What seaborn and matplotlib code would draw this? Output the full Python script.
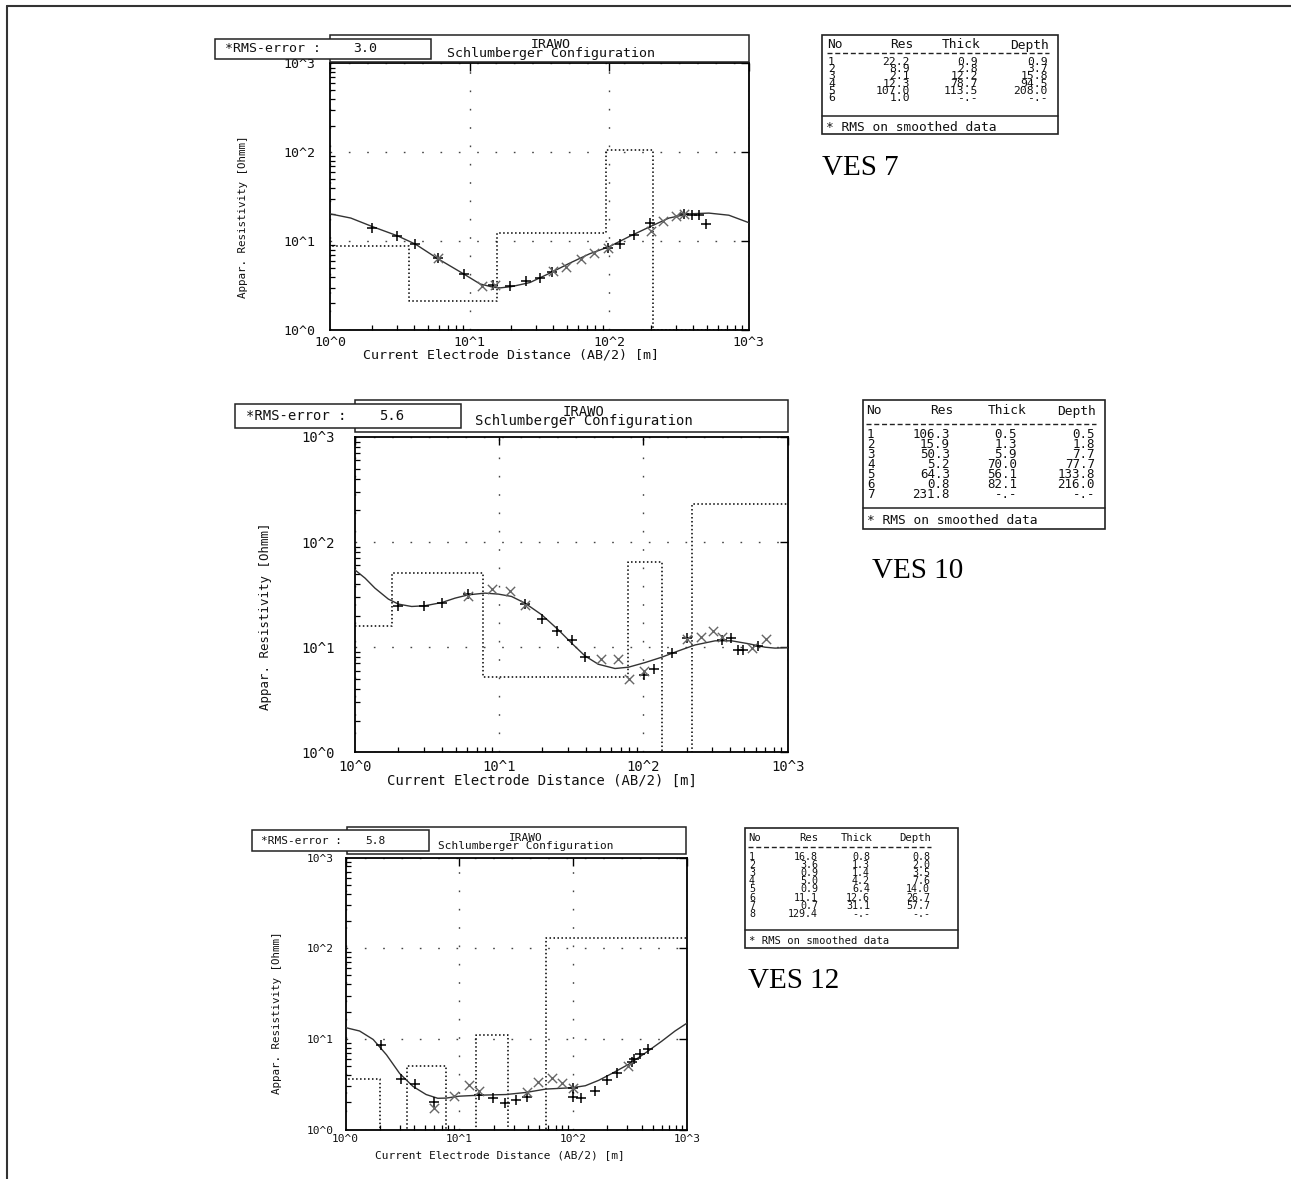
import numpy as np
import pandas as pd
import seaborn as sns
import matplotlib.pyplot as plt
from matplotlib.patches import Rectangle
from matplotlib.lines import Line2D
from matplotlib.transforms import Affine2D
from matplotlib.ticker import NullFormatter

sns.set_theme(style='white')
plt.rcParams['font.family'] = ['DejaVu Sans Mono', 'DejaVu Sans']

W, H = 1291, 1179

# ---------------- VES 7 ----------------
ves7_res = [22.2, 8.9, 2.1, 12.3, 107.0, 1.0]
ves7_thick = [0.9, 2.8, 12.2, 78.7, 113.5]
ves7_depth = [0.9, 3.7, 15.8, 94.5, 208.0]
ves7_rms = '3.0'
ves7_fit_x = [1.0, 1.41, 2.01, 3.04, 4.10, 5.85, 9.08, 11.9, 14.8, 16.6, 20.0, 27.1,
              37.6, 52.2, 72.5, 101, 140, 194, 269, 374, 520, 723, 1000]
ves7_fit_y = [20.3, 18.2, 14.6, 11.5, 9.25, 6.43, 4.28, 3.30, 3.03, 2.98, 3.08, 3.42,
              4.36, 5.65, 7.20, 8.71, 11.3, 14.4, 18.2, 20.3, 20.7, 19.6, 16.2]
ves7_plus_x = [2.01, 3.04, 4.1, 5.9, 9.1, 14.8, 19.5, 25.6, 31.9, 39.2, 97.9, 119,
               152, 196, 344, 395, 441, 492]
ves7_plus_y = [14.2, 11.5, 9.4, 6.4, 4.3, 3.2, 3.14, 3.57, 3.83, 4.55, 8.34, 9.25,
               11.8, 16.0, 20.2, 19.8, 19.8, 15.6]
ves7_cross_x = [5.9, 12.3, 15.2, 39.5, 49.4, 63.3, 78.7, 99, 200, 242, 301, 344]
ves7_cross_y = [6.5, 3.16, 3.25, 4.6, 5.18, 6.27, 7.45, 8.4, 12.9, 16.7, 19.3, 20.3]

# ---------------- VES 10 ----------------
ves10_res = [106.3, 15.9, 50.3, 5.2, 64.3, 0.8, 231.8]
ves10_thick = [0.5, 1.3, 5.9, 70.0, 56.1, 82.1]
ves10_depth = [0.5, 1.8, 7.7, 77.7, 133.8, 216.0]
ves10_rms = '5.6'
ves10_fit_x = [1.0, 1.18, 1.38, 1.71, 2.01, 2.48, 3.07, 4.01, 4.96, 6.13, 8.0, 9.9,
               12.2, 15.1, 19.8, 25.8, 31.9, 39.4, 48.8, 63.6, 78.7, 103, 134, 175,
               228, 314, 409, 533, 697, 817, 1000]
ves10_fit_y = [54.6, 45.4, 36.5, 28.7, 25.7, 24.4, 24.8, 26.6, 29.3, 31.5, 32.7, 32.0,
               30.4, 26.3, 20.3, 14.6, 10.9, 8.26, 6.88, 6.27, 6.45, 7.15, 8.03, 9.23,
               10.5, 11.5, 11.5, 10.8, 10.0, 9.8, 9.9]
ves10_plus_x = [2.01, 3.04, 4.05, 6.07, 15.1, 19.95, 25.4, 32.2, 39.4, 100.5, 119,
                159, 200, 349, 405, 455, 493, 627]
ves10_plus_y = [24.9, 24.4, 26.6, 32.0, 25.7, 18.5, 14.4, 11.6, 8.03, 5.49, 6.22,
                8.9, 12.2, 11.7, 12.2, 9.44, 9.44, 10.3]
ves10_cross_x = [6.07, 9.0, 12.0, 15.1, 50.9, 66.4, 79.6, 100.5, 200, 251, 306, 349,
                 563, 704]
ves10_cross_y = [30.8, 35.7, 34.4, 25.0, 7.69, 7.69, 4.95, 5.96, 12.0, 12.6, 14.3,
                 12.6, 9.78, 11.9]

# ---------------- VES 12 ----------------
ves12_res = [16.8, 3.6, 0.9, 5.0, 0.9, 11.1, 0.7, 129.4]
ves12_thick = [0.8, 1.3, 1.4, 4.2, 6.4, 12.6, 31.1]
ves12_depth = [0.8, 2.0, 3.5, 7.6, 14.0, 26.7, 57.7]
ves12_rms = '5.8'
ves12_fit_x = [1.0, 1.33, 1.75, 2.29, 2.99, 3.91, 5.11, 6.46, 7.64, 10, 15.0, 25.6,
               38.3, 57.3, 97.9, 128, 168, 219, 307, 430, 600, 785, 1000]
ves12_fit_y = [13.3, 12.2, 9.84, 6.67, 4.15, 2.99, 2.43, 2.21, 2.22, 2.33, 2.39, 2.43,
               2.56, 2.79, 2.89, 3.04, 3.49, 4.15, 5.24, 6.97, 9.42, 12.2, 14.9]
ves12_plus_x = [2.07, 3.09, 4.09, 6.04, 15.0, 19.6, 25.2, 31.7, 39.6, 99.2, 99.2, 117,
                155, 198, 242, 328, 342, 388, 453]
ves12_plus_y = [8.63, 3.65, 3.15, 2.03, 2.43, 2.23, 1.94, 2.12, 2.27, 2.89, 2.31, 2.23,
                2.65, 3.49, 4.22, 5.61, 5.96, 6.78, 7.73]
ves12_cross_x = [6.04, 9.04, 12.1, 15.0, 39.6, 49.4, 64.6, 79.1, 99.2, 303]
ves12_cross_y = [1.72, 2.33, 3.07, 2.65, 2.56, 3.34, 3.74, 3.26, 2.89, 5.01]

tick_vals = [1, 10, 100, 1000]
tick_text = ['10^0', '10^1', '10^2', '10^3']

fig = plt.figure(figsize=(W / 100, H / 100), dpi=100)
fig.patch.set_facecolor('white')
# pixel coordinates, origin top-left
px = Affine2D().scale(1 / W, -1 / H).translate(0, 1) + fig.transFigure

panels = [
    dict(name='VES 7', res=ves7_res, thick=ves7_thick, depth=ves7_depth, rms=ves7_rms,
         fit=(ves7_fit_x, ves7_fit_y), plus=(ves7_plus_x, ves7_plus_y),
         cross=(ves7_cross_x, ves7_cross_y),
         axes=(330, 63.5, 748.5, 330), tbox=(330, 35, 748.5, 61.5),
         rbox=(215, 38.5, 431, 58.5), irawo=(551, 45), schl=(551, 53.5),
         rtxt=(225, 48.5), rval=353.5, ylab=(242.5, 216.7), xlab=(510.6, 355),
         fs=9.5, yfs=7.8, ypad=10.8, xpad=4.5,
         table=dict(box=(822, 35, 1058, 134), cols=(827, 913, 980, 1049),
                    vcols=(910, 978, 1048), hy=45, dy=53.3, y0=61.7, step=7.3,
                    sep=116, foot=127.3, fs=9.3, rfs=8.2),
         ves=(822, 175)),
    dict(name='VES 10', res=ves10_res, thick=ves10_thick, depth=ves10_depth, rms=ves10_rms,
         fit=(ves10_fit_x, ves10_fit_y), plus=(ves10_plus_x, ves10_plus_y),
         cross=(ves10_cross_x, ves10_cross_y),
         axes=(354.7, 437, 787.7, 752.3), tbox=(355, 400, 788, 431.5),
         rbox=(235.3, 404.3, 460.6, 428), irawo=(584, 411.6), schl=(584, 421.5),
         rtxt=(246, 416.5), rval=379, ylab=(265, 616), xlab=(542, 781),
         fs=10, yfs=8.9, ypad=14.4, xpad=5.5,
         table=dict(box=(863, 400, 1105, 529), cols=(866, 953, 1026, 1096),
                    vcols=(950, 1017, 1095), hy=411, dy=424.3, y0=434.3, step=10,
                    sep=507.7, foot=521, fs=9.3, rfs=9.0),
         ves=(872, 578)),
    dict(name='VES 12', res=ves12_res, thick=ves12_thick, depth=ves12_depth, rms=ves12_rms,
         fit=(ves12_fit_x, ves12_fit_y), plus=(ves12_plus_x, ves12_plus_y),
         cross=(ves12_cross_x, ves12_cross_y),
         axes=(345.5, 857.5, 687, 1129.5), tbox=(346.5, 826.7, 686, 854.3),
         rbox=(252.3, 830, 429, 851), irawo=(525.7, 837.7), schl=(525.7, 845.7),
         rtxt=(260.7, 840.7), rval=365.7, ylab=(277, 1013), xlab=(500, 1155),
         fs=8, yfs=7.8, ypad=8.3, xpad=3.5,
         table=dict(box=(745, 827.7, 958, 947.7), cols=(748, 818, 873, 931),
                    vcols=(818, 870, 930), hy=838.3, dy=847.3, y0=856.7, step=8.2,
                    sep=930, foot=941, fs=7.6, rfs=7.2),
         ves=(748, 988)),
]

for p in panels:
    l, t, r, b = p['axes']
    ax = fig.add_axes([l / W, 1 - b / H, (r - l) / W, (b - t) / H])
    ax.set_xscale('log')
    ax.set_yscale('log')
    ax.set_xlim(1, 1000)
    ax.set_ylim(1, 1000)

    # layered model from the table (step line)
    sx = [0.3] + p['depth'] + [3000]
    sy = p['res'] + [p['res'][-1]]
    ax.plot(sx, sy, drawstyle='steps-post', color='black', lw=1.1,
            ls=(0, (1.0, 1.6)), zorder=2)

    sns.lineplot(x=p['fit'][0], y=p['fit'][1], ax=ax, color='#333333', lw=1.0,
                 estimator=None, zorder=3)
    sns.scatterplot(x=p['plus'][0], y=p['plus'][1], ax=ax, marker='+', color='black',
                    s=50, linewidth=1.1, zorder=4)
    sns.scatterplot(x=p['cross'][0], y=p['cross'][1], ax=ax, marker='x', color='#666666',
                    s=45, linewidth=1.0, zorder=4)

    ax.set_xticks(tick_vals, tick_text)
    ax.set_yticks(tick_vals, tick_text)
    ax.xaxis.set_minor_formatter(NullFormatter())
    ax.yaxis.set_minor_formatter(NullFormatter())
    ax.set_xlim(1, 1000)
    ax.set_ylim(1, 1000)
    ax.set_xlabel('')
    ax.set_ylabel('')
    ax.grid(True, which='major', color='#444444', lw=1.0, ls=(0, (1.2, 12)))
    ax.tick_params(which='major', direction='in', top=True, right=True, length=6,
                   width=1.0, color='black', labelsize=p['fs'], labelcolor='#111111')
    ax.tick_params(axis='x', which='major', pad=p['xpad'])
    ax.tick_params(axis='y', which='major', pad=p['ypad'])
    ax.tick_params(which='minor', direction='in', top=False, right=False, left=True,
                   bottom=True, length=3.5, width=0.9, color='black')
    for s in ax.spines.values():
        s.set_color('black')
        s.set_linewidth(1.3)

    # header boxes
    tl, tt, tr, tb = p['tbox']
    fig.add_artist(Rectangle((tl, tt), tr - tl, tb - tt, transform=px, facecolor='white',
                             edgecolor='#222222', lw=1.1, zorder=5))
    rl, rt, rr, rb = p['rbox']
    fig.add_artist(Rectangle((rl, rt), rr - rl, rb - rt, transform=px, facecolor='white',
                             edgecolor='#222222', lw=1.1, zorder=6))
    fs = p['fs']
    fig.text(*p['irawo'], 'IRAWO', transform=px, ha='center', va='center', fontsize=fs,
             color='#111111', zorder=7)
    fig.text(*p['schl'], 'Schlumberger Configuration', transform=px, ha='center',
             va='center', fontsize=fs, color='#111111', zorder=7)
    fig.text(*p['rtxt'], '*RMS-error :', transform=px, ha='left', va='center',
             fontsize=fs, color='#111111', zorder=7)
    fig.text(p['rval'], p['rtxt'][1], p['rms'], transform=px, ha='left', va='center',
             fontsize=fs, color='#111111', zorder=7)
    fig.text(*p['ylab'], 'Appar. Resistivity [Ohmm]', transform=px, ha='center',
             va='center', rotation=90, fontsize=p['yfs'], color='#111111')
    fig.text(*p['xlab'], 'Current Electrode Distance (AB/2) [m]', transform=px,
             ha='center', va='center', fontsize=fs, color='#111111')

    # result table
    tb_ = p['table']
    bl, bt, br, bb = tb_['box']
    fig.add_artist(Rectangle((bl, bt), br - bl, bb - bt, transform=px, fill=False,
                             edgecolor='#222222', lw=1.2))
    c0, c1, c2, c3 = tb_['cols']
    v1, v2, v3 = tb_['vcols']
    kw = dict(transform=px, va='center', fontsize=tb_['fs'], color='#111111')
    rkw = dict(transform=px, va='center', fontsize=tb_['rfs'], color='#111111')
    fig.text(c0, tb_['hy'], 'No', ha='left', **kw)
    fig.text(c1, tb_['hy'], 'Res', ha='right', **kw)
    fig.text(c2, tb_['hy'], 'Thick', ha='right', **kw)
    fig.text(c3, tb_['hy'], 'Depth', ha='right', **kw)
    fig.add_artist(Line2D([c0, c3], [tb_['dy'], tb_['dy']], transform=px, color='#222222',
                          lw=1.0, ls=(0, (3.6, 2.0))))
    n = len(p['res'])
    for i in range(n):
        y = tb_['y0'] + i * tb_['step']
        fig.text(c0 + 1, y, str(i + 1), ha='left', **rkw)
        fig.text(v1, y, f"{p['res'][i]:.1f}", ha='right', **rkw)
        th = f"{p['thick'][i]:.1f}" if i < n - 1 else '-.-'
        dp = f"{p['depth'][i]:.1f}" if i < n - 1 else '-.-'
        fig.text(v2, y, th, ha='right', **rkw)
        fig.text(v3, y, dp, ha='right', **rkw)
    fig.add_artist(Line2D([bl, br], [tb_['sep'], tb_['sep']], transform=px,
                          color='#222222', lw=1.1))
    fig.text(bl + 4, tb_['foot'], '* RMS on smoothed data', ha='left', **kw)

    fig.text(*p['ves'], p['name'], transform=px, ha='left', va='baseline',
             fontsize=21, family='Liberation Serif', color='black')

# outer frame (top and left edges)
fig.add_artist(Line2D([7, W], [6, 6], transform=px, color='#333333', lw=1.5))
fig.add_artist(Line2D([7, 7], [6, H], transform=px, color='#333333', lw=1.5))

fig.savefig('out.png', dpi=100, facecolor='white')
